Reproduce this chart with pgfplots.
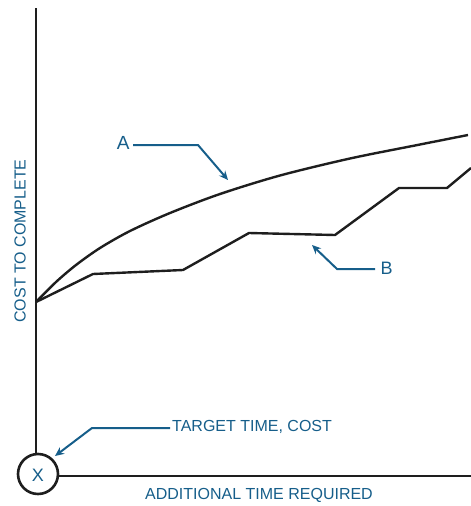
\documentclass[border=0pt]{standalone}
\usepackage{fontspec}
\setmainfont{Liberation Sans}
\usepackage{pgfplots}
\pgfplotsset{compat=1.18}
\usetikzlibrary{arrows.meta}
\definecolor{lblue}{RGB}{22,94,138}
\definecolor{dk}{RGB}{30,30,30}
\begin{document}
\begin{tikzpicture}
\begin{axis}[
  scale only axis, width=471pt, height=506pt,
  xmin=0, xmax=471, ymin=0, ymax=506, y dir=reverse,
  hide axis, clip=false,
]
% axes
\addplot[dk, line width=2.6pt, no marks] coordinates {(36,8) (36,453)};
\addplot[dk, line width=2.6pt, no marks] coordinates {(59,476) (471,476)};
% curve A
\addplot[dk, line width=2.4pt, no marks, smooth, tension=0.5] coordinates {
(36,302) (56,282) (76,265) (100,248) (130,231) (170,213) (220,194) (280,175.5) (350,158.5) (420,144.5) (468,135)};
% line B
\addplot[dk, line width=2.4pt, no marks] coordinates {
(36,302) (93,274) (183,270) (249,233) (335,235) (399,188) (447,188) (471,168)};
% arrows
\addplot[lblue, line width=2pt, no marks, -{Stealth[length=9pt,width=8pt]}] coordinates {(133,145) (198,145) (228,180)};
\addplot[lblue, line width=2pt, no marks, -{Stealth[length=9pt,width=8pt]}] coordinates {(375,269) (337,269) (312,245)};
\addplot[lblue, line width=2pt, no marks, -{Stealth[length=9pt,width=8pt]}] coordinates {(170,428) (92,428) (55,456)};
% circle
\draw[dk, line width=2.6pt] (axis cs:38,474) circle[radius=20pt];
\node[lblue, font=\fontsize{18}{20}\selectfont] at (axis cs:38,475) {X};
\node[lblue, font=\fontsize{19}{20}\selectfont, anchor=east] at (axis cs:133,143) {A};
\node[lblue, font=\fontsize{18}{20}\selectfont, anchor=west] at (axis cs:377,268) {B};
\node[lblue, font=\fontsize{16}{18}\selectfont, anchor=west, inner sep=0pt] at (axis cs:172,427) {TARGET TIME, COST};
\node[lblue, font=\fontsize{16}{18}\selectfont, inner sep=0pt] at (axis cs:259,495) {ADDITIONAL TIME REQUIRED};
\node[lblue, font=\fontsize{16}{18}\selectfont, inner sep=0pt, rotate=90] at (axis cs:20,241) {COST TO COMPLETE};
\end{axis}
\pgfresetboundingbox
\path (current axis.south west) rectangle (current axis.north east);
\end{tikzpicture}
\end{document}
